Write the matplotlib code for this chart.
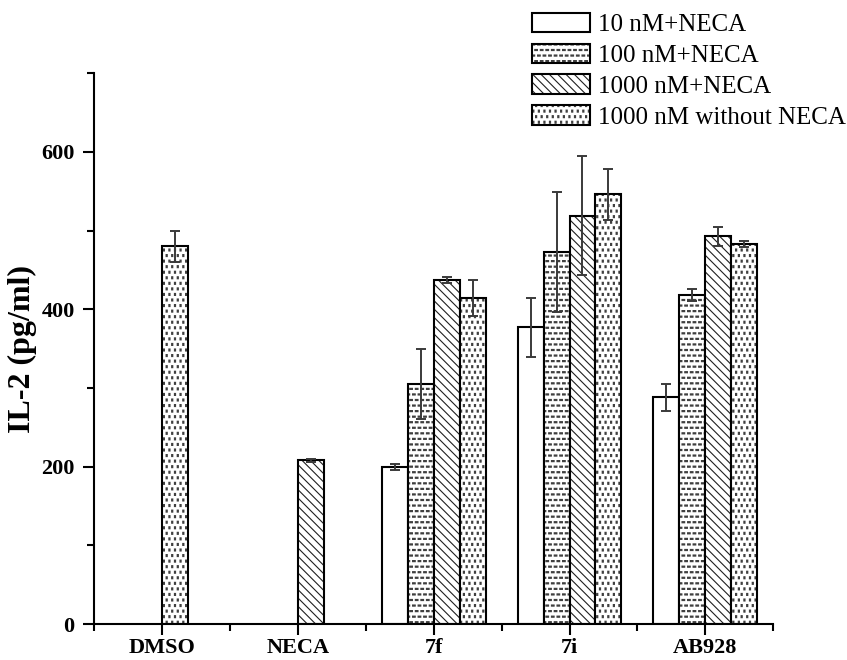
import warnings
import numpy as np
import matplotlib
matplotlib.use("Agg")
import matplotlib.pyplot as plt
from matplotlib import hatch as mhatch
from matplotlib.path import Path

warnings.filterwarnings("ignore")

# data
groups = ["DMSO", "NECA", "7f", "7i", "AB928"]
series = ["10 nM+NECA", "100 nM+NECA", "1000 nM+NECA", "1000 nM without NECA"]
# rows: series, cols: groups (DMSO/NECA only have one bar each, drawn separately)
vals = np.array([
    [np.nan, np.nan, 200, 377, 288],
    [np.nan, np.nan, 305, 473, 418],
    [np.nan, np.nan, 437, 519, 493],
    [np.nan, np.nan, 414, 546, 483],
])
errs = np.array([
    [0, 0, 4, 37, 17],
    [0, 0, 44, 76, 8],
    [0, 0, 4, 76, 12],
    [0, 0, 23, 32, 4],
])
ctrl_vals = [480, 208]
ctrl_errs = [20, 2]
ctrl_series = [3, 2]  # which pattern each control bar uses


# small custom hatches: short horizontal dashes ("=") and small vertical dots (":")
class _Blocks(mhatch.Shapes):
    filled = True
    size = 1.0
    char = "="
    w, h = 0.6, 0.25

    def __init__(self, hatch, density):
        self.num_rows = hatch.count(self.char) * density
        w, h = self.w / 2, self.h / 2
        self.shape_vertices = np.array([[-w, -h], [w, -h], [w, h], [-w, h], [-w, -h]])
        self.shape_codes = np.array([Path.MOVETO, Path.LINETO, Path.LINETO,
                                     Path.LINETO, Path.CLOSEPOLY], dtype=Path.code_type)
        super().__init__(hatch, density)


class Dashes(_Blocks):
    char = "="
    w, h = 0.48, 0.2


class Dots(_Blocks):
    char = ":"
    w, h = 0.2, 0.36


mhatch._hatch_types.extend([Dashes, Dots])

hatches = ["", "===", "\\\\\\\\", ":::"]
hatch_cols = ["black", "#404040", "#202020", "#404040"]

plt.rcParams["font.family"] = ["Liberation Serif", "DejaVu Serif"]
plt.rcParams["hatch.linewidth"] = 0.8

fig = plt.figure(figsize=(8.47, 6.6), dpi=100)
ax = fig.add_axes([0.111, 0.0545, 0.802, 0.8345])

x = np.arange(1, len(groups) + 1)
w = 0.191
offsets = [-2 * w, -w, 0, w]


def set_hatch_col(bars, col):
    for p in bars:
        p._hatch_color = matplotlib.colors.to_rgba(col)


handles = []
for i, name in enumerate(series):
    b = ax.bar(x + offsets[i], vals[i], width=w, align="edge", color="white",
               edgecolor="black", linewidth=1.5, hatch=hatches[i], label=name)
    set_hatch_col(b, hatch_cols[i])
    handles.append(b)
    ax.errorbar(x + offsets[i] + w / 2, vals[i], yerr=errs[i], fmt="none",
                ecolor="#3a3a3a", elinewidth=1.4, capsize=3.6, capthick=1.4)

for j, (v, e, s) in enumerate(zip(ctrl_vals, ctrl_errs, ctrl_series)):
    b = ax.bar(x[j] + offsets[2], v, width=w, align="edge", color="white",
               edgecolor="black", linewidth=1.5, hatch=hatches[s])
    set_hatch_col(b, hatch_cols[s])
    ax.errorbar(x[j] + offsets[2] + w / 2, v, yerr=e, fmt="none",
                ecolor="#3a3a3a", elinewidth=1.4, capsize=3.6, capthick=1.4)

ax.set_xlim(0.5, 5.5)
ax.set_ylim(0, 700)
ax.set_xticks(x)
ax.set_xticklabels(groups)
ax.set_xticks(np.arange(0.5, 5.6, 1), minor=True)
ax.set_yticks([0, 200, 400, 600])
ax.set_yticks([100, 300, 500, 700], minor=True)

for lab in ax.get_xticklabels() + ax.get_yticklabels():
    lab.set_fontweight("bold")
    lab.set_fontsize(16)

ax.tick_params(axis="both", which="major", direction="out", length=8, width=1.5)
ax.tick_params(axis="both", which="minor", direction="out", length=5, width=1.5)
ax.tick_params(axis="x", pad=2)
ax.tick_params(axis="y", pad=6)

for side in ["top", "right"]:
    ax.spines[side].set_visible(False)
for side in ["left", "bottom"]:
    ax.spines[side].set_linewidth(1.5)

ax.set_ylabel("IL-2 (pg/ml)", fontsize=23, fontweight="bold", labelpad=3)

fig.legend(handles=handles, loc="upper left", bbox_to_anchor=(0.6165, 0.996),
           frameon=False, fontsize=18, handlelength=2.3, handleheight=0.82,
           handletextpad=0.35, labelspacing=0.3, borderaxespad=0)

fig.savefig("out.png", dpi=100)
